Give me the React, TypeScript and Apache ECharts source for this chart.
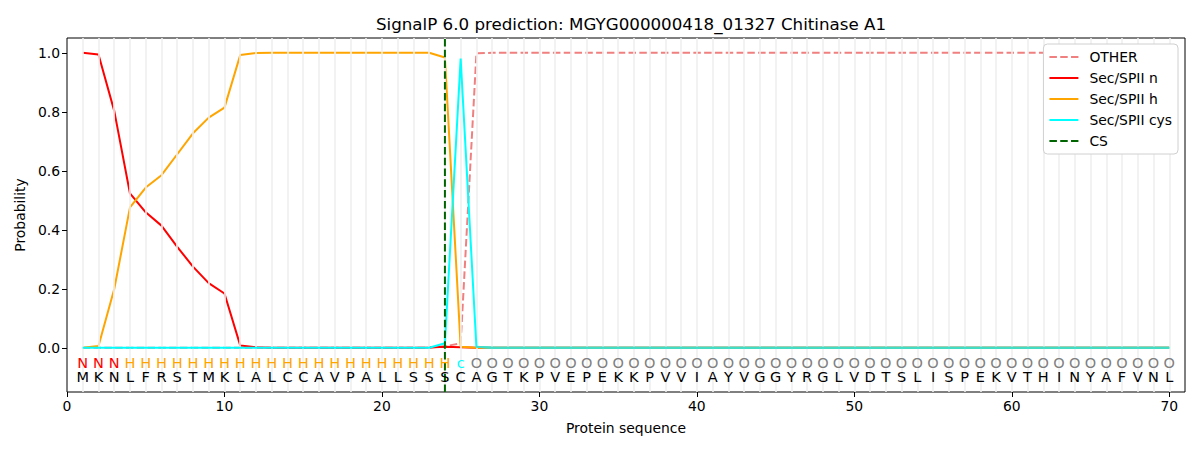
import React, { useEffect, useRef } from "react";
import * as echarts from "echarts";

const title = "SignalP 6.0 prediction: MGYG000000418_01327 Chitinase A1";
const sequence = "MKNLFRSTMKLALCCAVPALLSSSCAGTKPVEPEKKPVVIAYVGGYRGLVDTSLISPEKVTHINYAFVNL".split("");
const regionLabels = "NNNHHHHHHHHHHHHHHHHHHHHHcOOOOOOOOOOOOOOOOOOOOOOOOOOOOOOOOOOOOOOOOOOOOO".split("");

// probabilities per residue position (1..70)
const otherVals = [
  0, 0, 0, 0, 0, 0, 0, 0, 0, 0, 0, 0, 0, 0, 0, 0, 0, 0, 0, 0, 0, 0, 0, 0.005, 0.015,
  0.998, 1, 1, 1, 1, 1, 1, 1, 1, 1, 1, 1, 1, 1, 1, 1, 1, 1, 1, 1, 1, 1, 1, 1, 1,
  1, 1, 1, 1, 1, 1, 1, 1, 1, 1, 1, 1, 1, 1, 1, 1, 1, 1, 1, 1,
];
const nVals = [
  1.0, 0.994, 0.803, 0.523, 0.459, 0.414, 0.342, 0.275, 0.219, 0.184, 0.008, 0.002, 0, 0, 0, 0, 0, 0, 0, 0,
  0, 0, 0.001, 0.003, 0.002, 0, 0, 0, 0, 0, 0, 0, 0, 0, 0, 0, 0, 0, 0, 0,
  0, 0, 0, 0, 0, 0, 0, 0, 0, 0, 0, 0, 0, 0, 0, 0, 0, 0, 0, 0, 0, 0, 0, 0, 0, 0, 0, 0, 0, 0,
];
const hVals = [
  0, 0.006, 0.199, 0.476, 0.543, 0.585, 0.656, 0.727, 0.78, 0.814, 0.992, 0.999, 1, 1, 1, 1, 1, 1, 1, 1,
  1, 1, 1, 0.984, 0.003, 0, 0, 0, 0, 0, 0, 0, 0, 0, 0, 0, 0, 0, 0, 0,
  0, 0, 0, 0, 0, 0, 0, 0, 0, 0, 0, 0, 0, 0, 0, 0, 0, 0, 0, 0, 0, 0, 0, 0, 0, 0, 0, 0, 0, 0,
];
const cysVals = [
  0, 0, 0, 0, 0, 0, 0, 0, 0, 0, 0, 0, 0, 0, 0, 0, 0, 0, 0, 0,
  0, 0, 0, 0.015, 0.98, 0.003, 0, 0, 0, 0, 0, 0, 0, 0, 0, 0, 0, 0, 0, 0,
  0, 0, 0, 0, 0, 0, 0, 0, 0, 0, 0, 0, 0, 0, 0, 0, 0, 0, 0, 0, 0, 0, 0, 0, 0, 0, 0, 0, 0, 0,
];
const csPosition = 24;
const xTicks = [0, 10, 20, 30, 40, 50, 60, 70];
const yTicks = [0, 0.2, 0.4, 0.6, 0.8, 1.0];
const regionRowY = -0.05;
const residueRowY = -0.1;

const labelColors: Record<string, string> = { N: "red", H: "orange", c: "cyan", O: "gray" };
const FONT = "DejaVu Sans";

export default function App() {
  const ref = useRef<HTMLDivElement>(null);
  useEffect(() => {
    if (!ref.current) return;
    const chart = echarts.init(ref.current, undefined, { renderer: "svg" });
    const pos = sequence.map((_, i) => i + 1);
    const toPairs = (vals: number[]) => vals.map((v, i) => [i + 1, v]);
    const tailZeros = pos.filter((p) => p >= 26).map((p) => [p, cysVals[p - 1]]);

    const lineBase = {
      type: "line" as const,
      symbol: "none",
      showSymbol: false,
      silent: true,
    };
    const DASH = [7.5, 3.3];

    const textData = [
      ...regionLabels.map((l, i) => [i + 1, regionRowY, l, labelColors[l]]),
      ...sequence.map((l, i) => [i + 1, residueRowY, l, "#000"]),
    ];

    chart.setOption({
      animation: false,
      title: {
        text: title,
        left: 626,
        textAlign: "center",
        top: 10,
        textStyle: { fontFamily: FONT, fontSize: 16.7, fontWeight: "normal", color: "#000" },
      },
      legend: {
        orient: "vertical",
        right: 22,
        top: 44,
        z: 100,
        itemWidth: 29,
        itemHeight: 14,
        itemGap: 7,
        padding: [6, 6, 6, 5],
        backgroundColor: "#fff",
        borderColor: "#d0d0d0",
        borderWidth: 1,
        borderRadius: 4,
        itemStyle: { opacity: 0 },
        data: ["OTHER", "Sec/SPII n", "Sec/SPII h", "Sec/SPII cys", "CS"],
        textStyle: { fontFamily: FONT, fontSize: 13.9, color: "#000", padding: [0, 0, 0, 6] },
      },
      grid: {
        left: 67,
        right: 15,
        top: 38,
        bottom: 58,
        show: true,
        borderColor: "#000",
        borderWidth: 1,
        backgroundColor: "transparent",
      },
      xAxis: {
        type: "value",
        min: 0,
        max: 71,
        name: "Protein sequence",
        nameLocation: "middle",
        nameGap: 29,
        nameTextStyle: { fontFamily: FONT, fontSize: 13.9, color: "#000" },
        axisLine: { show: false, onZero: false },
        axisTick: { show: true, length: 5, lineStyle: { color: "#000" }, customValues: xTicks },
        axisLabel: {
          fontFamily: FONT,
          fontSize: 13.9,
          color: "#000",
          margin: 7,
          customValues: xTicks,
          formatter: (v: number) => String(v),
        },
        splitLine: { show: false },
      },
      yAxis: {
        type: "value",
        min: -0.15,
        max: 1.05,
        name: "Probability",
        nameLocation: "middle",
        nameGap: 39,
        nameTextStyle: { fontFamily: FONT, fontSize: 13.9, color: "#000" },
        axisLine: { show: false, onZero: false },
        axisTick: { show: true, length: 5, lineStyle: { color: "#000" }, customValues: yTicks },
        axisLabel: {
          fontFamily: FONT,
          fontSize: 13.9,
          color: "#000",
          margin: 7,
          customValues: yTicks,
          formatter: (v: number) => v.toFixed(1),
        },
        splitLine: { show: false },
      },
      series: [
        {
          ...lineBase,
          name: "grid-lines",
          data: [],
          z: 0,
          markLine: {
            silent: true,
            symbol: ["none", "none"],
            label: { show: false },
            lineStyle: { color: "#efefef", width: 1.6, type: "solid", opacity: 1 },
            emphasis: { disabled: true },
            data: pos.map((p) => ({ xAxis: p })),
          },
        },
        {
          ...lineBase,
          name: "OTHER",
          data: toPairs(otherVals),
          lineStyle: { color: "#F08080", width: 2, type: DASH },
          itemStyle: { color: "#F08080" },
          z: 2,
        },
        {
          ...lineBase,
          name: "Sec/SPII n",
          data: toPairs(nVals),
          lineStyle: { color: "red", width: 2 },
          itemStyle: { color: "red" },
          z: 3,
        },
        {
          ...lineBase,
          name: "Sec/SPII h",
          data: toPairs(hVals),
          lineStyle: { color: "orange", width: 2 },
          itemStyle: { color: "orange" },
          z: 4,
        },
        {
          ...lineBase,
          name: "Sec/SPII cys",
          data: toPairs(cysVals),
          lineStyle: { color: "cyan", width: 2 },
          itemStyle: { color: "cyan" },
          z: 5,
        },
        {
          ...lineBase,
          name: "zero-overlap",
          data: tailZeros,
          lineStyle: { color: "#44DCC4", width: 2 },
          itemStyle: { color: "#44DCC4" },
          z: 6,
        },
        {
          ...lineBase,
          name: "CS",
          data: [
            [csPosition, -0.15],
            [csPosition, 1.05],
          ],
          lineStyle: { color: "#006400", width: 2, type: DASH },
          itemStyle: { color: "#006400" },
          z: 7,
        },
        {
          type: "custom",
          name: "sequence-text",
          silent: true,
          z: 8,
          data: textData,
          renderItem: (params: any, api: any) => {
            const pt = api.coord([api.value(0), api.value(1)]);
            const item = textData[params.dataIndex];
            return {
              type: "text",
              x: pt[0],
              y: pt[1],
              style: {
                text: item[2] as string,
                fill: item[3] as string,
                fontFamily: FONT,
                fontSize: 14.5,
                align: "center",
                verticalAlign: "middle",
              },
            };
          },
        },
      ],
    });
    return () => chart.dispose();
  }, []);
  return (
    <div
      ref={ref}
      style={{ position: "absolute", left: 0, top: 0, width: 1200, height: 450, background: "#fff" }}
    />
  );
}
